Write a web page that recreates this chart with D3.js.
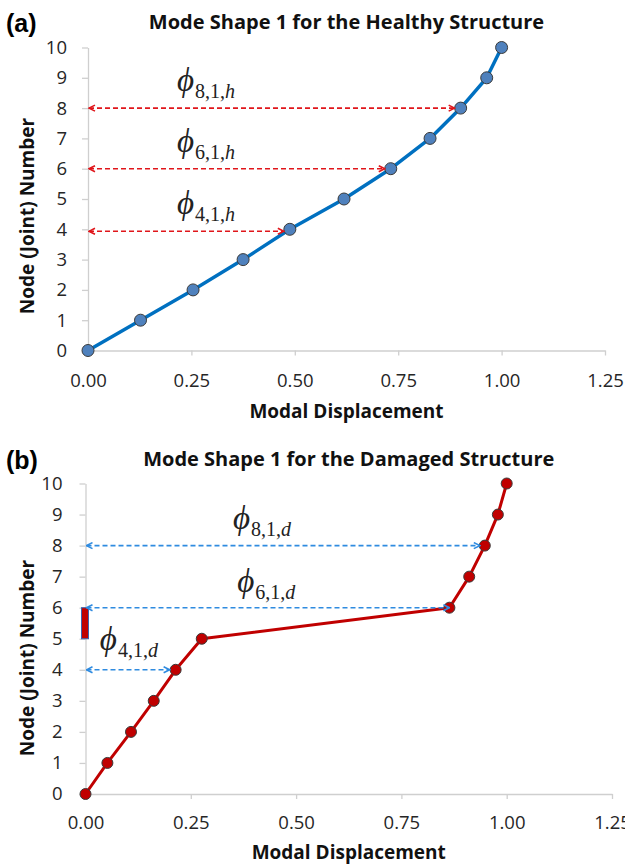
<!DOCTYPE html>
<html><head><meta charset="utf-8">
<script src="https://cdn.jsdelivr.net/npm/d3@7"></script>
<style>body{margin:0;background:#fff;} svg{display:block;}</style>
</head><body>
<svg id="chart" width="625" height="868"></svg>
<script>
// ---------- data ----------
const nodeNumbers = [0, 1, 2, 3, 4, 5, 6, 7, 8, 9, 10];
const healthyDisplacement = [0, 0.127, 0.254, 0.375, 0.488, 0.619, 0.732, 0.827, 0.901, 0.964, 1.0];
const damagedDisplacement = [0, 0.052, 0.108, 0.162, 0.214, 0.276, 0.864, 0.911, 0.948, 0.979, 1.0];
const xTickValues = [0, 0.25, 0.5, 0.75, 1.0, 1.25];
const yTickValues = [0, 1, 2, 3, 4, 5, 6, 7, 8, 9, 10];
const annotatedNodes = [8, 6, 4];
const damageZone = [5, 6];
const panelLetters = ["(a)", "(b)"];
const panelTitles = ["Mode Shape 1 for the Healthy Structure", "Mode Shape 1 for the Damaged Structure"];
const stateSubscripts = ["h", "d"];
const xAxisTitle = "Modal Displacement";
const yAxisTitle = "Node (Joint) Number";

// ---------- drawing ----------
const svg = d3.select("#chart");
const FONT = "'Open Sans', 'Noto Sans', sans-serif";

function drawPanel(o) {
  const g = svg.append("g");
  const x = d3.scaleLinear().domain([0, 1.25]).range([o.left, o.right]);
  const y = d3.scaleLinear().domain([0, 10]).range([o.bottom, o.top]);
  const pts = nodeNumbers.map((n, i) => ({ n, v: o.values[i] }));

  // axes
  const xa = g.append("g").attr("transform", `translate(0,${o.bottom})`)
    .call(d3.axisBottom(x).tickValues(xTickValues).tickFormat(d3.format(".2f"))
      .tickSize(5).tickSizeOuter(0).tickPadding(o.xPad));
  const ya = g.append("g").attr("transform", `translate(${o.left},0)`)
    .call(d3.axisLeft(y).tickValues(yTickValues).tickFormat(d3.format("d"))
      .tickSize(6).tickSizeOuter(0).tickPadding(o.yPad));
  [xa, ya].forEach(a => {
    a.select(".domain").attr("stroke", "#cfcfcf").attr("stroke-width", 1.3);
    a.selectAll(".tick line").attr("stroke", "#cfcfcf").attr("stroke-width", 1.3);
    a.selectAll(".tick text").attr("fill", "#262626").style("font-family", FONT).style("font-size", "18.5px");
  });

  // titles
  g.append("text").attr("x", (o.left + o.right) / 2).attr("y", o.titleY)
    .attr("text-anchor", "middle").style("font-family", FONT).style("font-weight", "bold")
    .style("font-size", "20px").attr("fill", "#111").text(o.title);
  g.append("text").attr("x", 6).attr("y", o.letterY)
    .style("font-family", "'Liberation Sans', Arial, sans-serif").style("font-weight", "bold")
    .style("font-size", "25px").attr("fill", "#000").text(o.letter);
  g.append("text").attr("x", (o.left + o.right) / 2).attr("y", o.xTitleY)
    .attr("text-anchor", "middle").style("font-family", FONT).style("font-weight", "bold")
    .style("font-size", "19px").attr("fill", "#111").text(xAxisTitle);
  g.append("text").attr("transform", `translate(${o.yTitleX},${o.yTitleCY}) rotate(-90)`)
    .attr("text-anchor", "middle").attr("dy", "0.35em").style("font-family", FONT).style("font-weight", "bold")
    .style("font-size", "19px").attr("fill", "#111").text(yAxisTitle);

  // damage zone bar
  if (o.showDamage) {
    g.append("rect").attr("x", x(0) - 4).attr("width", 7)
      .attr("y", y(damageZone[1])).attr("height", y(damageZone[0]) - y(damageZone[1]))
      .attr("fill", "#C00000").attr("stroke", "#3a63b0").attr("stroke-width", 1);
  }

  // line + markers
  g.append("path").datum(pts)
    .attr("d", d3.line().x(d => x(d.v)).y(d => y(d.n)))
    .attr("fill", "none").attr("stroke", o.lineColor).attr("stroke-width", o.lineWidth)
    .attr("stroke-linejoin", "round");
  g.selectAll("circle.pt").data(pts).join("circle").attr("class", "pt")
    .attr("cx", d => x(d.v)).attr("cy", d => y(d.n)).attr("r", o.r)
    .attr("fill", o.markerFill).attr("stroke", "#3a3a3a").attr("stroke-width", 1);

  // arrow markers
  const defs = svg.append("defs");
  ["s", "e"].forEach(k => {
    defs.append("marker").attr("id", o.id + k).attr("viewBox", "0 0 8 8")
      .attr("refX", k === "e" ? 7 : 1).attr("refY", 4).attr("markerWidth", 8).attr("markerHeight", 8)
      .attr("markerUnits", "userSpaceOnUse").attr("orient", "auto")
      .append("path").attr("d", k === "e" ? "M1,1 L7,4 L1,7" : "M7,1 L1,4 L7,7")
      .attr("fill", "none").attr("stroke", o.arrowColor).attr("stroke-width", 1.6);
  });

  annotatedNodes.forEach((n, i) => {
    const v = o.values[nodeNumbers.indexOf(n)];
    const yy = y(n) + (o.arrowShift[i] || 0);
    g.append("line").attr("x1", x(0) + 1).attr("x2", x(v) - o.arrowGap[i]).attr("y1", yy).attr("y2", yy)
      .attr("stroke", o.arrowColor).attr("stroke-width", 1.6).attr("stroke-dasharray", "5,3")
      .attr("marker-start", `url(#${o.id}s)`).attr("marker-end", `url(#${o.id}e)`);
    const t = g.append("text").attr("x", x(o.labelX[i])).attr("y", y(n) - o.labelRise[i] - 7)
      .style("font-family", "'Liberation Serif', 'DejaVu Serif', serif").style("font-style", "italic")
      .attr("fill", "#222");
    t.append("tspan").style("font-size", "33px").text("\u03D5");
    t.append("tspan").style("font-size", "20px").style("font-style", "normal").attr("dx", 1).attr("dy", 7).text(`${n},1,`);
    t.append("tspan").style("font-size", "20px").style("font-style", "italic").text(o.state);
  });
}

drawPanel({
  id: "a", left: 88, right: 605, top: 47.5, bottom: 350.5,
  values: healthyDisplacement, title: panelTitles[0], letter: panelLetters[0], state: stateSubscripts[0],
  titleY: 29, letterY: 32, xTitleY: 418, yTitleX: 27, yTitleCY: 216,
  xPad: 18, yPad: 15,
  lineColor: "#0070C0", lineWidth: 3.5, markerFill: "#4F81BD", r: 6,
  arrowColor: "#E0161B", arrowGap: [6, 6, 6], arrowShift: [0, 0, 2],
  labelX: [0.215, 0.215, 0.215], labelRise: [10, 10, 8], showDamage: false
});

drawPanel({
  id: "b", left: 85.5, right: 612, top: 483.5, bottom: 794,
  values: damagedDisplacement, title: panelTitles[1], letter: panelLetters[1], state: stateSubscripts[1],
  titleY: 466, letterY: 469, xTitleY: 859, yTitleX: 27, yTitleCY: 658,
  xPad: 17, yPad: 17,
  lineColor: "#C00000", lineWidth: 3, markerFill: "#C00000", r: 5.5,
  arrowColor: "#2F8BE0", arrowGap: [5, 0, 6], arrowShift: [0, 0, 0],
  labelX: [0.35, 0.36, 0.034], labelRise: [10, 9, 13], showDamage: true
});
</script>
</body></html>
